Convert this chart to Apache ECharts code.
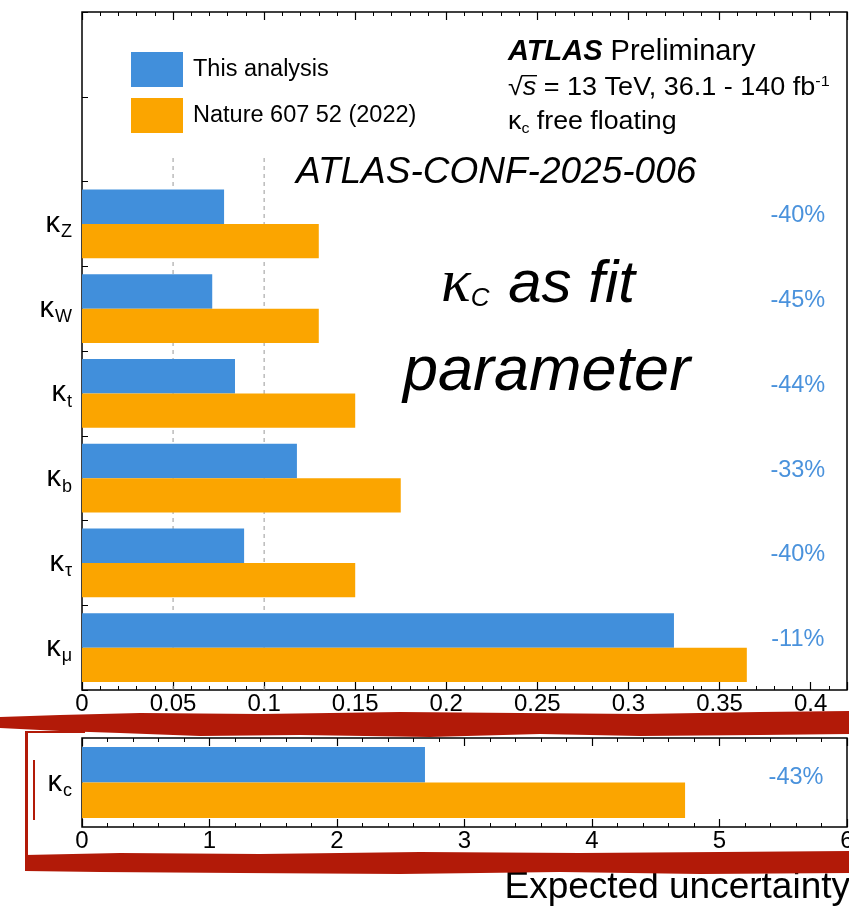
<!DOCTYPE html>
<html>
<head>
<meta charset="utf-8">
<script src="https://cdn.jsdelivr.net/npm/echarts@6/dist/echarts.min.js"></script>
<style>
html, body { margin: 0; padding: 0; background: #fff; }
#main { width: 849px; height: 906px; }
</style>
</head>
<body>
<div id="main"></div>
<script>
// upper panel: kappa modifiers (two empty rows on top hold the legend)
var couplings = ['', '', 'Z', 'W', 't', 'b', 'τ', 'μ'];
var thisAnalysis = [null, null, 0.078, 0.0715, 0.084, 0.118, 0.089, 0.325];
var nature2022 = [null, null, 0.130, 0.130, 0.150, 0.175, 0.150, 0.365];
var improvement = ['', '', '-40%', '-45%', '-44%', '-33%', '-40%', '-11%'];

// lower panel: kappa_c
var charmRow = ['c'];
var charmThis = [2.69];
var charmNature = [4.73];
var charmImprovement = ['-43%'];

var refLines = [0.05, 0.1];
var refLineTop = 6.3;
var pctX = 0.393;
var pctXc = 5.6;

var FONT = '"Liberation Sans", Arial, sans-serif';
var BLUE = '#418fdb';
var ORANGE = '#fba500';
var PCT = '#4a92dc';
var RED = '#b21a08';

var kappaLabel = {
    margin: 10,
    fontFamily: FONT,
    formatter: function (v) {
        return v ? '{k|κ}{s|' + v + '}' : '';
    },
    rich: {
        k: { fontSize: 29, color: '#000', fontFamily: FONT },
        s: { fontSize: 18, color: '#000', fontFamily: FONT, padding: [17, 0, 0, 1] }
    }
};

function xAxisDef(grid, max, interval, pos, showLabel) {
    return {
        type: 'value', gridIndex: grid, min: 0, max: max, interval: interval, position: pos,
        axisLine: { show: false },
        axisTick: { show: true, inside: true, length: 8, lineStyle: { color: '#000', width: 1.2 } },
        minorTick: { show: true, splitNumber: 5, length: 4, lineStyle: { color: '#000', width: 1 } },
        splitLine: { show: false },
        axisLabel: {
            show: showLabel, color: '#000', fontSize: 24, fontFamily: FONT, margin: 2,
            showMaxLabel: max === 6
        }
    };
}

var pctData = [];
improvement.forEach(function (t, i) { if (t) pctData.push([pctX, i]); });

var option = {
    animation: false,
    backgroundColor: '#fff',
    grid: [
        { left: 82, right: 2, top: 12, height: 678, show: true, borderColor: '#000', borderWidth: 1.5, outerBoundsMode: 'none' },
        { left: 82, right: 2, top: 738, height: 89, show: true, borderColor: '#000', borderWidth: 1.5, outerBoundsMode: 'none' }
    ],
    legend: {
        orient: 'vertical', left: 131, top: 52, padding: 0, itemWidth: 52, itemHeight: 35, itemGap: 11,
        icon: 'rect',
        data: ['This analysis', 'Nature 607 52 (2022)'],
        textStyle: { fontSize: 23.5, color: '#000', fontFamily: FONT, padding: [0, 0, 0, 5] }
    },
    xAxis: [
        xAxisDef(0, 0.42, 0.05, 'bottom', true),
        xAxisDef(1, 6, 1, 'bottom', true),
        xAxisDef(0, 0.42, 0.05, 'top', false),
        xAxisDef(1, 6, 1, 'top', false)
    ],
    yAxis: [
        {
            type: 'category', gridIndex: 0, data: couplings, inverse: true,
            axisLine: { show: false },
            axisTick: { show: true, inside: true, length: 6, lineStyle: { color: '#000' } },
            axisLabel: kappaLabel
        },
        {
            type: 'category', gridIndex: 1, data: charmRow,
            axisLine: { show: false }, axisTick: { show: false },
            axisLabel: kappaLabel
        },
        { type: 'value', gridIndex: 0, min: 0, max: 8, show: false }
    ],
    series: [
        {
            name: 'This analysis', type: 'bar', xAxisIndex: 0, yAxisIndex: 0,
            data: thisAnalysis, barGap: 0, barCategoryGap: '19%', itemStyle: { color: BLUE }, z: 3
        },
        {
            name: 'Nature 607 52 (2022)', type: 'bar', xAxisIndex: 0, yAxisIndex: 0,
            data: nature2022, barGap: 0, barCategoryGap: '19%', itemStyle: { color: ORANGE }, z: 3
        },
        {
            name: 'This analysis', type: 'bar', xAxisIndex: 1, yAxisIndex: 1,
            data: charmThis, barGap: 0, barCategoryGap: '20%', itemStyle: { color: BLUE }
        },
        {
            name: 'Nature 607 52 (2022)', type: 'bar', xAxisIndex: 1, yAxisIndex: 1,
            data: charmNature, barGap: 0, barCategoryGap: '20%', itemStyle: { color: ORANGE }
        },
        {
            type: 'custom', xAxisIndex: 0, yAxisIndex: 0, data: pctData, z: 5,
            renderItem: function (params, api) {
                var p = api.coord([api.value(0), api.value(1)]);
                return {
                    type: 'text', x: p[0], y: p[1] - 8,
                    style: {
                        text: improvement[api.value(1)], fill: PCT, fontSize: 23.5, fontFamily: FONT,
                        align: 'center', verticalAlign: 'middle'
                    }
                };
            }
        },
        {
            type: 'custom', xAxisIndex: 1, yAxisIndex: 1, data: [[pctXc, 0]], z: 5,
            renderItem: function (params, api) {
                var p = api.coord([api.value(0), api.value(1)]);
                return {
                    type: 'text', x: p[0], y: p[1] - 5,
                    style: {
                        text: charmImprovement[params.dataIndex], fill: PCT, fontSize: 23.5, fontFamily: FONT,
                        align: 'center', verticalAlign: 'middle'
                    }
                };
            }
        }
    ].concat(refLines.map(function (x) {
        return {
            type: 'line', xAxisIndex: 0, yAxisIndex: 2, symbol: 'none', z: 1,
            data: [[x, 0], [x, refLineTop]],
            lineStyle: { color: '#aaa', width: 1.2, type: [4, 4] }
        };
    })),
    graphic: [
        {
            type: 'text', left: 508, top: 37,
            style: {
                text: '{b|ATLAS} Preliminary', fontSize: 29, fontFamily: FONT, fill: '#000',
                rich: { b: { fontSize: 29, fontWeight: 'bold', fontStyle: 'italic', fontFamily: FONT } }
            }
        },
        {
            type: 'text', x: 508, y: 74, scaleX: 1.08,
            style: {
                text: '√{i|s} = 13 TeV, 36.1 - 140 fb{sup|-1}', fontSize: 25, fontFamily: FONT, fill: '#000',
                rich: {
                    i: { fontSize: 25, fontStyle: 'italic', fontFamily: FONT },
                    sup: { fontSize: 15, fontFamily: FONT, padding: [0, 0, 14, 0] }
                }
            }
        },
        { type: 'rect', shape: { x: 522, y: 75, width: 15, height: 1.4 }, style: { fill: '#000' } },
        {
            type: 'text', x: 508, y: 109, scaleX: 1.07,
            style: {
                text: 'κ{sub|c} free floating', fontSize: 25, fontFamily: FONT, fill: '#000',
                rich: { sub: { fontSize: 15, fontFamily: FONT, padding: [12, 0, 0, 0] } }
            }
        },
        {
            type: 'text', left: 296, top: 154,
            style: { text: 'ATLAS-CONF-2025-006', fontSize: 37, fontStyle: 'italic', fontFamily: FONT, fill: '#000' }
        },
        {
            type: 'text', x: 441, y: 254,
            style: {
                text: '{k|κ}{sub|C} as fit', fontSize: 60, fontStyle: 'italic', fontFamily: FONT, fill: '#000',
                rich: {
                    k: { fontSize: 62, fontStyle: 'italic', fontFamily: '"Liberation Serif", serif' },
                    sub: { fontSize: 26, fontStyle: 'italic', fontFamily: FONT, padding: [28, 2, 0, 0] }
                }
            }
        },
        {
            type: 'text', x: 403, y: 341,
            style: { text: 'parameter', fontSize: 63, fontStyle: 'italic', fontFamily: FONT, fill: '#000' }
        },
        {
            type: 'text', right: -1, top: 869,
            style: { text: 'Expected uncertainty', fontSize: 37, fontFamily: FONT, fill: '#000' }
        },
        // red marker strokes around the kappa_c panel
        {
            type: 'polygon', z: 10,
            shape: { points: [[0, 717], [60, 715], [140, 713], [260, 714], [400, 712], [520, 713], [640, 714], [760, 712], [849, 711],
                [849, 734], [760, 735], [640, 736], [540, 734], [430, 737], [300, 735], [200, 736], [120, 733], [60, 731], [0, 728]] },
            style: { fill: RED }
        },
        {
            type: 'polygon', z: 10,
            shape: { points: [[25, 855], [120, 853], [260, 854], [420, 852], [580, 853], [720, 852], [849, 851],
                [849, 873], [700, 874], [560, 872], [400, 874], [240, 873], [100, 872], [25, 871]] },
            style: { fill: RED }
        },
        { type: 'rect', z: 10, shape: { x: 25, y: 731, width: 3, height: 140 }, style: { fill: RED } },
        { type: 'rect', z: 10, shape: { x: 33, y: 760, width: 2, height: 60 }, style: { fill: RED } },
        { type: 'rect', z: 10, shape: { x: 25, y: 731, width: 60, height: 2 }, style: { fill: RED } }
    ]
};

var myChart = echarts.init(document.getElementById('main'));
myChart.setOption(option);
</script>
</body>
</html>
